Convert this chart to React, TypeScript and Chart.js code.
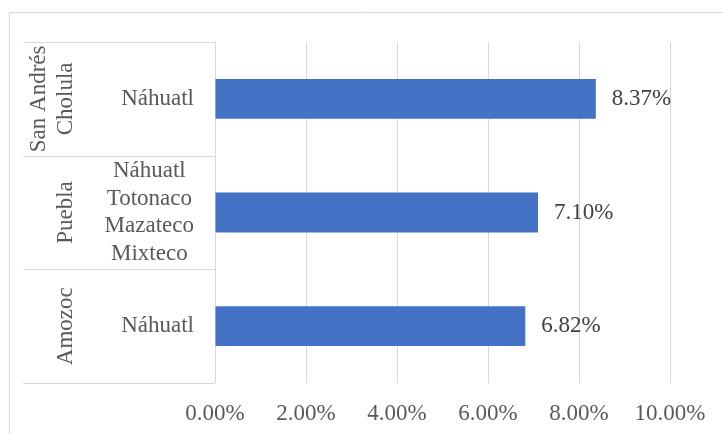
import React, { useEffect, useRef } from "react";
import { Chart, registerables } from "chart.js";

Chart.register(...registerables);

const groupLabels: string[][] = [["San Andrés", "Cholula"], ["Puebla"], ["Amozoc"]];
const innerLabels: string[][] = [
  ["Náhuatl"],
  ["Náhuatl", "Totonaco", "Mazateco", "Mixteco"],
  ["Náhuatl"],
];
const values: number[] = [8.37, 7.1, 6.82];
const xTicks: number[] = [0, 2, 4, 6, 8, 10];

const FONT = "'Liberation Serif', 'Times New Roman', serif";
const FONT_SIZE = 23;
const LINE_H = 27.6;
const GRID = "#d9d9d9";
const TEXT = "#595959";
const LABEL = "#404040";

const tablePlugin = {
  id: "tablePlugin",
  beforeDraw(chart: any) {
    const { ctx, width, height } = chart;
    ctx.save();
    ctx.strokeStyle = GRID;
    ctx.lineWidth = 1;
    ctx.beginPath();
    ctx.moveTo(9.5, height);
    ctx.lineTo(9.5, 12.5);
    ctx.lineTo(width, 12.5);
    ctx.stroke();
    ctx.restore();
  },
  afterDraw(chart: any) {
    const { ctx, chartArea } = chart;
    const y = chart.scales.y;
    const left = chartArea.left;
    const tableLeft = 23;
    ctx.save();
    ctx.strokeStyle = GRID;
    ctx.lineWidth = 1;
    for (let i = 0; i <= groupLabels.length; i++) {
      const py = Math.round(y.getPixelForValue(i - 0.5)) + 0.5;
      ctx.beginPath();
      ctx.moveTo(tableLeft, py);
      ctx.lineTo(left, py);
      ctx.stroke();
    }
    ctx.font = `${FONT_SIZE}px ${FONT}`;
    ctx.fillStyle = TEXT;
    ctx.textBaseline = "middle";
    ctx.textAlign = "center";
    for (let i = 0; i < innerLabels.length; i++) {
      const cy = y.getPixelForValue(i);
      const lines = innerLabels[i];
      const blockW = Math.max(...lines.map((l) => ctx.measureText(l).width));
      const blockRight = left - 21;
      const cx = blockRight - blockW / 2;
      const startY = cy - ((lines.length - 1) * LINE_H) / 2;
      lines.forEach((l, k) => ctx.fillText(l, cx, startY + k * LINE_H));
    }
    for (let i = 0; i < groupLabels.length; i++) {
      const cy = y.getPixelForValue(i);
      const lines = groupLabels[i];
      ctx.save();
      ctx.translate(0, cy);
      ctx.rotate(-Math.PI / 2);
      const lastX = 65.5;
      lines.forEach((l, k) => {
        const lx = lastX - (lines.length - 1 - k) * 27;
        ctx.fillText(l, 0, lx);
      });
      ctx.restore();
    }
    ctx.restore();
  },
};

const dataLabelPlugin = {
  id: "dataLabelPlugin",
  afterDatasetsDraw(chart: any) {
    const { ctx } = chart;
    const meta = chart.getDatasetMeta(0);
    ctx.save();
    ctx.font = `${FONT_SIZE}px ${FONT}`;
    ctx.fillStyle = LABEL;
    ctx.textAlign = "left";
    ctx.textBaseline = "middle";
    meta.data.forEach((bar: any, i: number) => {
      ctx.fillText(values[i].toFixed(2) + "%", bar.x + 16, bar.y);
    });
    ctx.restore();
  },
};

export default function App() {
  const ref = useRef<HTMLCanvasElement>(null);
  useEffect(() => {
    if (!ref.current) return;
    const chart = new Chart(ref.current, {
      type: "bar",
      data: {
        labels: groupLabels.map((g) => g.join(" ")),
        datasets: [
          {
            data: values,
            backgroundColor: "#4472c4",
            categoryPercentage: 1,
            barPercentage: 0.35,
          },
        ],
      },
      options: {
        indexAxis: "y",
        animation: false,
        responsive: true,
        maintainAspectRatio: false,
        layout: { padding: { top: 42, right: 53, left: 0, bottom: 0 } },
        plugins: { legend: { display: false }, tooltip: { enabled: false } },
        scales: {
          x: {
            type: "linear",
            min: xTicks[0],
            max: xTicks[xTicks.length - 1],
            afterBuildTicks: (s: any) => {
              s.ticks = xTicks.map((v) => ({ value: v }));
            },
            afterFit: (s: any) => {
              s.height = 51;
            },
            grid: { color: GRID, drawTicks: false, lineWidth: 1 },
            border: { display: false },
            ticks: {
              padding: 17,
              color: TEXT,
              font: { family: FONT, size: FONT_SIZE },
              callback: (v: any) => Number(v).toFixed(2) + "%",
            },
          },
          y: {
            type: "category",
            offset: true,
            afterFit: (s: any) => {
              s.width = 215;
            },
            grid: { display: false },
            border: { display: false },
            ticks: { display: false },
          },
        },
      },
      plugins: [tablePlugin, dataLabelPlugin],
    } as any);
    return () => chart.destroy();
  }, []);
  return (
    <div style={{ position: "fixed", left: 0, top: 0, width: 723, height: 434, background: "#fff" }}>
      <canvas ref={ref} />
    </div>
  );
}
